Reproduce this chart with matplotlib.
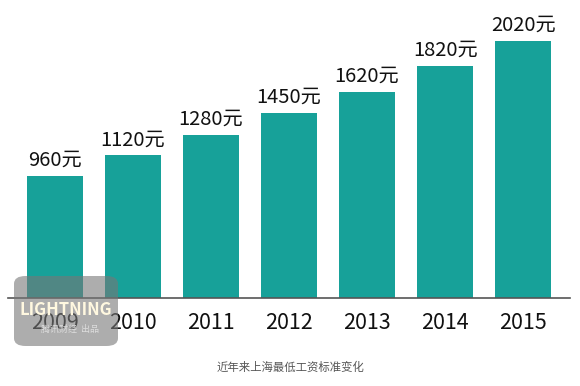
import matplotlib.pyplot as plt
from matplotlib.patches import FancyBboxPatch

plt.rcParams['font.family'] = ['Noto Sans CJK SC', 'DejaVu Sans']

years = ['2009', '2010', '2011', '2012', '2013', '2014', '2015']
wages = [960, 1120, 1280, 1450, 1620, 1820, 2020]
caption = '近年来上海最低工资标准变化'

fig = plt.figure(figsize=(5.8, 3.86), dpi=100)
ax = fig.add_axes([8/580, 88/386, 562/580, 293/386])

x = range(len(years))
bars = ax.bar(x, wages, width=0.72, color='#17a199')
for b, v in zip(bars, wages):
    ax.text(b.get_x() + b.get_width()/2, v + 40, f'{v}元',
            ha='center', va='bottom', fontsize=14.5, color='#111111')

ax.set_xlim(-0.6, 6.6)
ax.set_ylim(0, 2300)
ax.set_xticks(list(x))
ax.set_xticklabels(years, fontsize=15.5, color='#111111')
ax.tick_params(axis='x', length=0, pad=10)
ax.set_yticks([])
for s in ['top', 'right', 'left']:
    ax.spines[s].set_visible(False)
ax.spines['bottom'].set_color('#555555')
ax.spines['bottom'].set_linewidth(1.2)

fig.text(0.5, 19/386, caption, ha='center', va='center',
         fontsize=8.2, color='#555555', style='italic')

# watermark
wm = FancyBboxPatch((14/580, 40/386), 104/580, 70/386,
                    boxstyle='round,pad=0,rounding_size=0.02',
                    transform=fig.transFigure, facecolor='#777777',
                    alpha=0.6, edgecolor='none', zorder=5)
fig.patches.append(wm)
fig.text(66/580, 76/386, 'LIGHTNING', ha='center', va='center',
         fontsize=12, fontweight='bold', style='italic', color='#fff8e0', zorder=6)
fig.text(70/580, 57/386, '腾讯财经  出品', ha='center', va='center',
         fontsize=6.5, color='#dddddd', zorder=6)

fig.savefig('out.png', dpi=100)
